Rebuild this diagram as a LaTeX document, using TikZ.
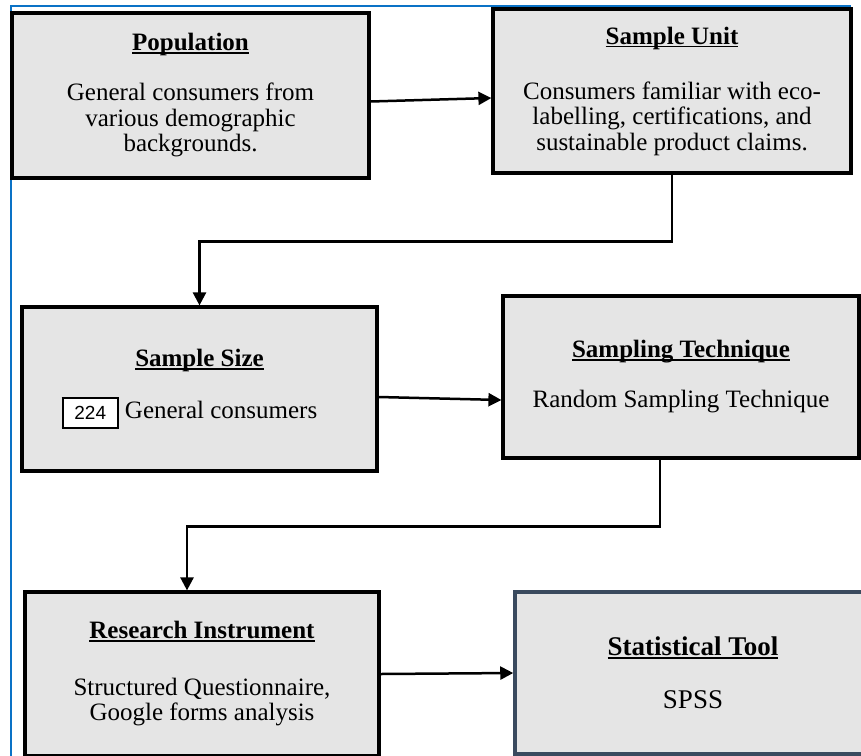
\documentclass[tikz,border=0pt]{standalone}
\usepackage{fontspec}
\setmainfont{Liberation Serif}
\newfontfamily\sansfont{Liberation Sans}
\usetikzlibrary{arrows.meta}
\definecolor{boxgray}{HTML}{E5E5E5}
\definecolor{frameblue}{HTML}{0A72C6}
\definecolor{slate}{HTML}{3A4A5E}
\newcommand{\boxtitle}[1]{\setbox0\hbox{\textbf{#1}}\rlap{\rule[-3pt]{\wd0}{1.5pt}}\box0}

\begin{document}
\begin{tikzpicture}[x=1pt,y=-1pt,
		stepbox/.style={draw=black, line width=3.2pt, fill=boxgray, align=center, inner sep=0pt,
			font=\fontsize{25}{25.5}\selectfont},
		arr/.style={line width=2.5pt, -{Triangle[length=13pt,width=13pt]}}]
		\useasboundingbox (0,0) rectangle (861,755);
		\clip (0,0) rectangle (861,755);
		%draw frame
		\draw[frameblue, line width=2.5pt] (851,6) -- (11,6) -- (11,760);
		%draw boxes
		\node[stepbox, minimum width=357pt, minimum height=165pt] (pop) at (190.5,95.5)
			{\boxtitle{Population}\\[24.5pt]General consumers from\\various demographic\\backgrounds.};
		\node[stepbox, minimum width=358pt, minimum height=164pt] (unit) at (672,91)
			{\boxtitle{Sample Unit}\\[29.5pt]Consumers familiar with eco-\\labelling, certifications, and\\sustainable product claims.};
		\node[stepbox, minimum width=355pt, minimum height=164pt] (size) at (199.5,389)
			{\boxtitle{Sample Size}\\[23.5pt]{\setlength\fboxsep{0pt}\setlength\fboxrule{2pt}%
				\fcolorbox{black}{white}{\parbox[c][28pt][c]{53pt}{\centering\sansfont\fontsize{19}{20}\selectfont 224}}}\ General consumers\hspace*{20pt}};
		\node[stepbox, minimum width=356pt, minimum height=162pt] (tech) at (681,377)
			{\boxtitle{Sampling Technique}\\[24.5pt]Random Sampling Technique};
		\node[stepbox, minimum width=354pt, minimum height=164pt] (instr) at (202,674)
			{\boxtitle{Research Instrument}\\[31pt]Structured Questionnaire,\\Google forms analysis};
		\node[stepbox, draw=slate, line width=3.5pt, minimum width=356pt, minimum height=162pt,
			font=\fontsize{27}{27.5}\selectfont] (stat) at (693,673)
			{\boxtitle{Statistical Tool}\\[25.5pt]SPSS};
		%draw arrows
		\draw[arr] ([yshift=-6pt]pop.east) -- ([yshift=-7pt]unit.west);
		\draw[arr] (unit.south) -- ++(0,67) -| (size.north);
		\draw[arr] ([yshift=-8pt]size.east) -- ([yshift=-23pt]tech.west);
		\draw[arr] ([xshift=-21pt]tech.south) -- ++(0,67) -| ([xshift=-15pt]instr.north);
		\draw[arr] (instr.east) -- (stat.west);
\end{tikzpicture}
\end{document}
